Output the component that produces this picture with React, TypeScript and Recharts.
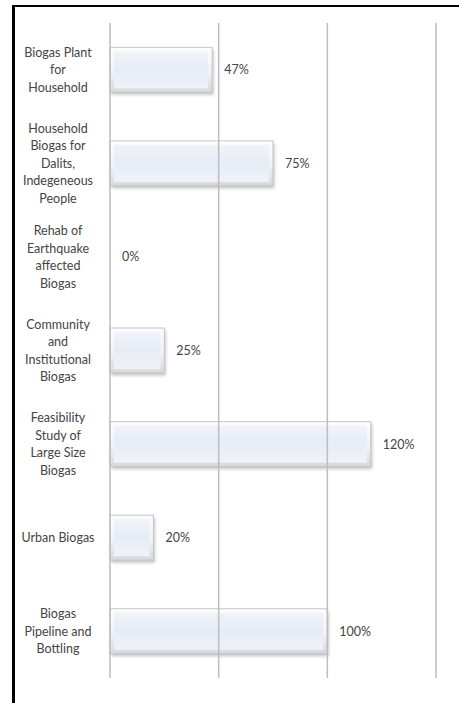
import { BarChart, Bar, XAxis, YAxis, ReferenceLine, LabelList } from 'recharts';

const categories = [
  'Biogas Plant\nfor\nHousehold',
  'Household\nBiogas for\nDalits,\nIndegeneous\nPeople',
  'Rehab of\nEarthquake\naffected\nBiogas',
  'Community\nand\nInstitutional\nBiogas',
  'Feasibility\nStudy of\nLarge Size\nBiogas',
  'Urban Biogas',
  'Biogas\nPipeline and\nBottling',
];
const progress = [0.47, 0.75, 0, 0.25, 1.2, 0.2, 1.0];
const xTicks = [0, 0.5, 1, 1.5];

const data = categories.map((name, i) => ({ name, value: progress[i] }));

const FONT = 'Lato, "Open Sans", sans-serif';
const TEXT = '#444';

function CategoryTick(props: any) {
  const { x, y, payload } = props;
  const lines: string[] = String(payload.value).split('\n');
  const lh = 17.5;
  const start = y - ((lines.length - 1) * lh) / 2;
  return (
    <g>
      {lines.map((ln, i) => (
        <text
          key={i}
          x={x - 44}
          y={start + i * lh}
          textAnchor="middle"
          dominantBaseline="central"
          fontSize={12.5}
          fontFamily={FONT}
          fill={TEXT}
        >
          {ln}
        </text>
      ))}
    </g>
  );
}

function GlassBar(props: any) {
  const { x, y, width, height } = props;
  if (!width || width <= 0) return null;
  const inset = Math.min(4, width / 4);
  return (
    <g>
      <rect x={x + 1.5} y={y + 2.5} width={width} height={height} fill="#808080" opacity={0.45} filter="url(#soft)" />
      <rect x={x} y={y} width={width} height={height} fill="url(#outer)" stroke="#c3c5ca" strokeWidth={1} />
      <rect
        x={x + inset}
        y={y + inset}
        width={Math.max(0, width - inset * 2)}
        height={height - inset * 2}
        fill="url(#inner)"
      />
    </g>
  );
}

export default function App() {
  return (
    <div style={{ position: 'absolute', left: 0, top: 0, width: 459, height: 703, overflow: 'hidden', background: '#fff' }}>
      <div
        style={{
          position: 'absolute',
          left: 12,
          top: 5,
          width: 470,
          height: 720,
          borderLeft: '3px solid #000',
          borderTop: '2px solid #000',
        }}
      />
      <div style={{ position: 'absolute', left: 0, top: 0 }}>
        <BarChart
          width={459}
          height={703}
          data={data}
          layout="vertical"
          margin={{ top: 23, right: 23, bottom: 25, left: 10 }}
          barCategoryGap="26%"
        >
          <defs>
            <linearGradient id="outer" x1="0" y1="0" x2="0" y2="1">
              <stop offset="0%" stopColor="#fdfdfe" />
              <stop offset="55%" stopColor="#f1f2f5" />
              <stop offset="100%" stopColor="#d6d8dc" />
            </linearGradient>
            <linearGradient id="inner" x1="0" y1="0" x2="0" y2="1">
              <stop offset="0%" stopColor="#f0f3f8" />
              <stop offset="50%" stopColor="#e6ecf6" />
              <stop offset="100%" stopColor="#eff2f7" />
            </linearGradient>
            <filter id="soft" x="-10%" y="-10%" width="120%" height="130%">
              <feGaussianBlur stdDeviation="1.5" />
            </filter>
          </defs>
          <XAxis type="number" domain={[0, 1.5]} ticks={xTicks} hide />
          <YAxis
            type="category"
            dataKey="name"
            width={100}
            axisLine={false}
            tickLine={false}
            tick={<CategoryTick />}
            interval={0}
          />
          {xTicks.map((t) => (
            <ReferenceLine key={t} x={t} stroke="#bdbdbd" strokeWidth={1.5} />
          ))}
          <Bar dataKey="value" shape={<GlassBar />} isAnimationActive={false}>
            <LabelList
              dataKey="value"
              position="right"
              offset={12}
              formatter={(v: any) => `${Math.round(Number(v) * 100)}%`}
              style={{ fontSize: 12.5, fontFamily: FONT, fill: TEXT }}
            />
          </Bar>
        </BarChart>
      </div>
    </div>
  );
}
